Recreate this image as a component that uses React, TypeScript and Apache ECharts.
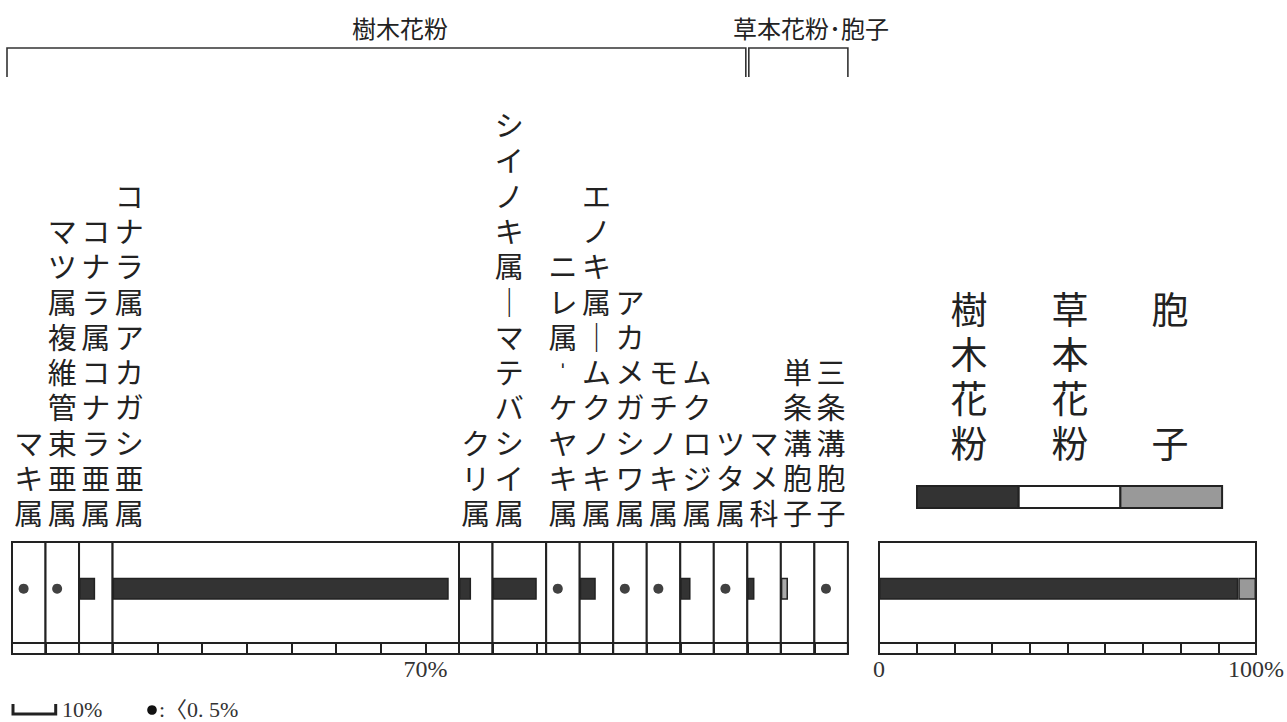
import React, { useEffect, useRef } from 'react';
import * as echarts from 'echarts';

// ---------- data ----------
const taxa = [
  'マキ属',
  'マツ属複維管束亜属',
  'コナラ属コナラ亜属',
  'コナラ属アカガシ亜属',
  'クリ属',
  'シイノキ属｜マテバシイ属',
  'ニレ属ˈケヤキ属',
  'エノキ属｜ムクノキ属',
  'アカメガシワ属',
  'モチノキ属',
  'ムクロジ属',
  'ツタ属',
  'マメ科',
  '単条溝胞子',
  '三条溝胞子',
];
const taxaGroup = ['tree', 'tree', 'tree', 'tree', 'tree', 'tree', 'tree', 'tree', 'tree', 'tree', 'tree', 'tree', 'herb', 'spore', 'spore'];
// percentages; null = trace (<0.5%), drawn as a dot
const percents: (number | null)[] = [null, null, 3.6, 75.2, 2.7, 9.9, null, 3.6, null, null, 2.3, null, 1.6, 1.6, null];
// axis extent (%) of each column
const columnMax = [7.5, 7.5, 7.5, 77.5, 7.5, 12, 7.5, 7.5, 7.5, 7.5, 7.5, 7.5, 7.5, 7.5, 7.5];
const tickStep = 10;
const shownTickLabels: Record<number, string> = { 70: '70%' };

const compositionNames = ['樹木花粉', '草本花粉', '胞子'];
const compositionGroups = ['tree', 'herb', 'spore'];
const composition = [95.3, 0, 4.7];
const compositionTickLabels: Record<number, string> = { 0: '0', 100: '100%' };

const headerTexts = ['樹木花粉', '草本花粉･胞子'];
const legendScaleText = '10%';
const legendTraceText = ':〈0. 5%';

// ---------- layout / style ----------
const PX = 4.47; // px per percent (left panel)
const LEFT0 = 12;
const TOP = 542;
const H = 112;
const STRIP = 11;
const CATS = ['r0', 'r1', 'r2', 'v', 'r4', 'r5'];
const ROW = 3;
const DOT_X = 2.6;
const RIGHT_LEFT = 879;
const RIGHT_W = 379;
const SLOT = 7.5 * PX;
const INK = '#222';
const groupColor: Record<string, string> = { tree: '#333333', herb: '#333333', spore: '#aaaaaa' };
const compColor: Record<string, string> = { tree: '#333333', herb: '#ffffff', spore: '#999999' };
const CJK = '"Noto Sans CJK JP", "Noto Sans CJK SC", sans-serif';
// Latin-first stack: CJK glyphs fall back to Noto Sans CJK JP, line boxes stay compact
const VCJK = '"Liberation Serif", "Noto Sans CJK JP", serif';
const SERIF = '"Liberation Serif", "Noto Sans CJK JP", serif';

function buildOption() {
  const lefts: number[] = [];
  let acc = LEFT0;
  columnMax.forEach((m) => {
    lefts.push(acc);
    acc += m * PX;
  });
  const panelRight = acc;

  const grid: any[] = [];
  const xAxis: any[] = [];
  const yAxis: any[] = [];
  const series: any[] = [];

  const axisCommon = (labels: Record<number, string>) => ({
    type: 'value',
    position: 'bottom',
    offset: -STRIP,
    interval: tickStep,
    axisLine: { show: true, lineStyle: { color: INK, width: 2 } },
    axisTick: { show: true, length: STRIP, inside: false, lineStyle: { color: INK, width: 2 } },
    splitLine: { show: false },
    axisLabel: {
      margin: 14,
      fontFamily: SERIF,
      fontSize: 24,
      color: '#333',
      formatter: (v: number) => labels[Math.round(v * 1000) / 1000] ?? '',
    },
  });

  columnMax.forEach((m, i) => {
    grid.push({
      left: lefts[i], top: TOP, width: m * PX, height: H,
      show: true, borderColor: INK, borderWidth: 2, backgroundColor: '#fff',
    });
    xAxis.push({ ...axisCommon(shownTickLabels), gridIndex: i, min: 0, max: m });
    yAxis.push({ gridIndex: i, type: 'category', data: CATS, show: false });
    const v = percents[i];
    if (v === null) {
      series.push({
        type: 'scatter', xAxisIndex: i, yAxisIndex: i, name: taxa[i],
        data: [[DOT_X, ROW]], symbol: 'circle', symbolSize: 10,
        itemStyle: { color: '#111' }, silent: true,
      });
    } else {
      series.push({
        type: 'bar', xAxisIndex: i, yAxisIndex: i, name: taxa[i],
        data: [[v, ROW]], barWidth: 22,
        itemStyle: { color: groupColor[taxaGroup[i]], borderColor: INK, borderWidth: 1.5 },
        silent: true,
      });
    }
  });

  const ri = columnMax.length;
  grid.push({
    left: RIGHT_LEFT, top: TOP, width: RIGHT_W, height: H,
    show: true, borderColor: INK, borderWidth: 2, backgroundColor: '#fff',
  });
  xAxis.push({ ...axisCommon(compositionTickLabels), gridIndex: ri, min: 0, max: 100 });
  yAxis.push({ gridIndex: ri, type: 'category', data: CATS, show: false });
  composition.forEach((v, k) => {
    series.push({
      type: 'bar', xAxisIndex: ri, yAxisIndex: ri, name: compositionNames[k], stack: 'comp',
      data: [[v, ROW]], barWidth: 22,
      itemStyle: { color: compColor[compositionGroups[k]], borderColor: INK, borderWidth: v > 0 ? 1.5 : 0 },
      silent: true,
    });
  });

  // ---------- graphics ----------
  const graphic: any[] = [];
  const txt = (text: string, x: number, y: number, font: string, align: string, vAlign: string, lineHeight?: number, fill = INK) => ({
    type: 'text', silent: true,
    style: {
      text, x, y, font, fill,
      align, textAlign: align, verticalAlign: vAlign, textVerticalAlign: vAlign,
      lineHeight,
    },
  });

  // column labels (vertical, bottom aligned)
  taxa.forEach((name, i) => {
    const chars = Array.from(name).join('\n');
    graphic.push(txt(chars, lefts[i] + SLOT / 2, 533, `29px ${VCJK}`, 'center', 'bottom', 35.3));
  });

  // header brackets
  const herbStartIdx = taxaGroup.indexOf('herb');
  const split = lefts[herbStartIdx];
  const bracket = (x1: number, x2: number) => ({
    type: 'polyline', silent: true,
    shape: { points: [[x1, 77], [x1, 48], [x2, 48], [x2, 77]] },
    style: { stroke: '#333', lineWidth: 1.6, fill: null },
  });
  graphic.push(bracket(7, split - 1.5));
  graphic.push(bracket(split + 1.5, panelRight));
  graphic.push(txt(headerTexts[0], 400, 27, `24px ${CJK}`, 'center', 'middle'));
  graphic.push(txt(headerTexts[1], 811, 27, `24px ${CJK}`, 'center', 'middle'));

  // composition legend labels + swatches
  const legendCenters = [969, 1070, 1170];
  const legendLabels = ['樹\n木\n花\n粉', '草\n本\n花\n粉', '胞\n\n\n子'];
  legendLabels.forEach((t, k) => {
    graphic.push(txt(t, legendCenters[k], 289, `37px ${VCJK}`, 'center', 'top', 44.7));
  });
  const swW = 101.7;
  compositionGroups.forEach((g, k) => {
    graphic.push({
      type: 'rect', silent: true,
      shape: { x: 917 + k * swW, y: 486, width: swW, height: 22 },
      style: { fill: compColor[g], stroke: INK, lineWidth: 2 },
    });
  });

  // bottom legend: scale bar + trace symbol
  const scaleLen = tickStep * PX;
  graphic.push({
    type: 'polyline', silent: true,
    shape: { points: [[LEFT0 + 1, 704], [LEFT0 + 1, 714], [LEFT0 + scaleLen - 1, 714], [LEFT0 + scaleLen - 1, 704]] },
    style: { stroke: '#222', lineWidth: 3, fill: null },
  });
  graphic.push(txt(legendScaleText, 62, 709, `22px ${SERIF}`, 'left', 'middle', undefined, '#333'));
  graphic.push({ type: 'circle', silent: true, shape: { cx: 152, cy: 710, r: 4.8 }, style: { fill: '#111' } });
  graphic.push(txt(legendTraceText, 159, 709, `22px ${SERIF}`, 'left', 'middle', undefined, '#333'));

  return {
    animation: false,
    backgroundColor: '#fff',
    grid, xAxis, yAxis, series, graphic,
  };
}

export default function App() {
  const ref = useRef<HTMLDivElement>(null);
  useEffect(() => {
    if (!ref.current) return;
    const chart = echarts.init(ref.current, undefined, { renderer: 'svg' });
    chart.setOption(buildOption() as any);
    return () => chart.dispose();
  }, []);
  return (
    <div
      ref={ref}
      style={{ position: 'absolute', left: 0, top: 0, width: 1287, height: 722, background: '#fff' }}
    />
  );
}
